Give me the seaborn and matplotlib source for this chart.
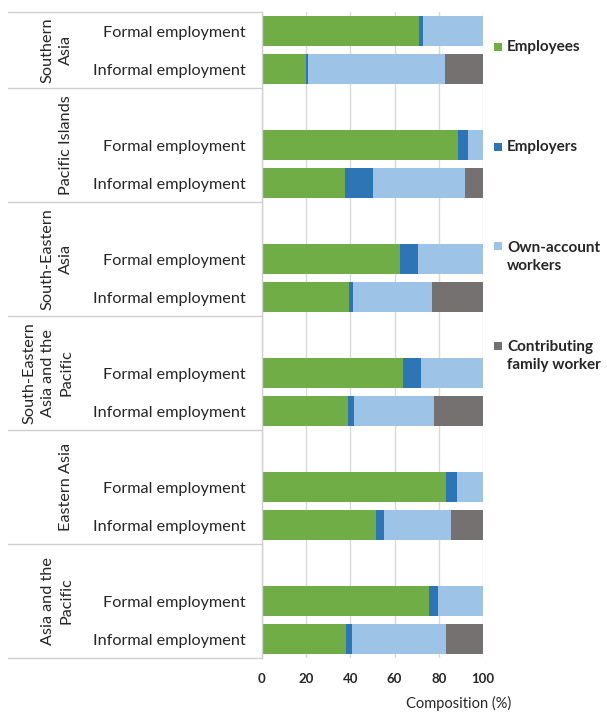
import numpy as np
import pandas as pd
import matplotlib
matplotlib.use("Agg")
import matplotlib.pyplot as plt
from matplotlib.patches import Rectangle
from matplotlib.lines import Line2D
from matplotlib.transforms import blended_transform_factory
import seaborn as sns

# ---- data -------------------------------------------------------------
regions = ["Southern Asia", "Pacific Islands", "South-Eastern Asia",
           "South-Eastern Asia and the Pacific", "Eastern Asia",
           "Asia and the Pacific"]
region_labels = ["Southern\nAsia", "Pacific Islands", "South-Eastern\nAsia",
                 "South-Eastern\nAsia and the\nPacific", "Eastern Asia",
                 "Asia and the\nPacific"]
employment_types = ["Formal employment", "Informal employment"]

# one value per region x employment type (formal, informal, formal, ...)
employees = [71.0, 19.8, 88.7, 37.5, 62.4, 39.4, 63.8, 39.1, 83.1, 51.4, 75.4, 38.1]
employers = [1.7, 1.2, 4.7, 12.5, 8.3, 2.0, 8.0, 2.6, 5.0, 3.9, 4.2, 2.5]
own_account = [27.3, 61.6, 6.6, 42.0, 29.3, 35.6, 28.2, 36.1, 11.9, 30.4, 20.4, 42.6]
contributing = [0.0, 17.4, 0.0, 8.0, 0.0, 23.0, 0.0, 22.2, 0.0, 14.3, 0.0, 16.8]

series_names = ["Employees", "Employers", "Own-account workers",
                "Contributing family worker"]
legend_labels = ["Employees", "Employers", "Own-account\nworkers",
                 "Contributing\nfamily worker"]
colors = ["#70AD47", "#2E75B6", "#9DC3E6", "#767171"]
x_ticks = [0, 20, 40, 60, 80, 100]
x_label = "Composition (%)"

# ---- table ------------------------------------------------------------
rows = []
for i, reg in enumerate(regions):
    for j, et in enumerate(employment_types):
        rows.append({"region": reg, "type": et, "row": f"{reg}|{et}"})
df = pd.DataFrame(rows)
values = np.column_stack([employees, employers, own_account, contributing])
cum = np.cumsum(values, axis=1)
for k in range(4):
    df[f"cum{k}"] = cum[:, k]

# category order with an empty slot above every region after the first
order, tick_text = [], []
group_bounds = [-0.5]
for i, reg in enumerate(regions):
    if i > 0:
        order.append(f"gap{i}")
        tick_text.append("")
    for et in employment_types:
        order.append(f"{reg}|{et}")
        tick_text.append(et)
    group_bounds.append(len(order) - 0.5)

# ---- figure -----------------------------------------------------------
W, H = 607, 713
sns.set_style("white")
plt.rcParams["font.family"] = ["Lato", "DejaVu Sans"]
fig = plt.figure(figsize=(W / 100, H / 100), dpi=100)
ax = fig.add_axes([262 / W, 1 - 658 / H, (483 - 262) / W, (658 - 12) / H])

for k in range(3, -1, -1):
    sns.barplot(data=df, x=f"cum{k}", y="row", order=order, orient="h",
                color=colors[k], saturation=1, width=0.8, linewidth=0,
                errorbar=None, ax=ax)

ax.set_xlim(0, 100)
ax.set_ylim(len(order) - 0.5, -0.5)
ax.set_xticks(x_ticks)
ax.set_xticklabels([str(t) for t in x_ticks], fontsize=9.5, fontweight="bold")
ax.set_yticks(range(len(order)))
ax.set_yticklabels(tick_text, fontsize=11.7)
ax.tick_params(axis="both", length=0)
ax.tick_params(axis="y", pad=12)
ax.tick_params(axis="x", pad=11)
ax.set_ylabel("")
ax.set_xlabel(x_label, fontsize=10.5)
ax.xaxis.set_label_coords((459 - 262) / (483 - 262), (658 - 703) / (658 - 12))
ax.xaxis.label.set_va("center")

ax.set_axisbelow(True)
ax.grid(axis="x", color="#D9D9D9", linewidth=1)
ax.grid(axis="y", visible=False)
for side in ["top", "right", "bottom"]:
    ax.spines[side].set_visible(False)
ax.spines["left"].set_color("#D0D0D0")
ax.spines["left"].set_linewidth(1)

# region separators and rotated region names
trans = blended_transform_factory(fig.transFigure, ax.transData)
for b in group_bounds:
    ax.add_line(Line2D([8 / W, 262 / W], [b, b], transform=trans,
                       color="#D0D0D0", linewidth=1, clip_on=False))
for i, lab in enumerate(region_labels):
    center = (group_bounds[i] + group_bounds[i + 1]) / 2
    ax.text(73 / W, center, lab, rotation=90, ha="right", va="center",
            multialignment="center", transform=trans, fontsize=11.7,
            linespacing=1.38)

# legend on the right
legend_y = [47, 147, 257, 356]
for lab, col, y in zip(legend_labels, colors, legend_y):
    nlines = lab.count("\n") + 1
    first = y - (nlines - 1) * 10.5
    fig.patches.append(Rectangle((494 / W, 1 - (first + 4) / H), 8 / W, 8 / H,
                                 transform=fig.transFigure, facecolor=col,
                                 edgecolor="none"))
    fig.text(507 / W, 1 - y / H, lab, ha="left", va="center", fontsize=11,
             fontweight="bold", linespacing=1.35)

fig.savefig("out.png", dpi=100)
